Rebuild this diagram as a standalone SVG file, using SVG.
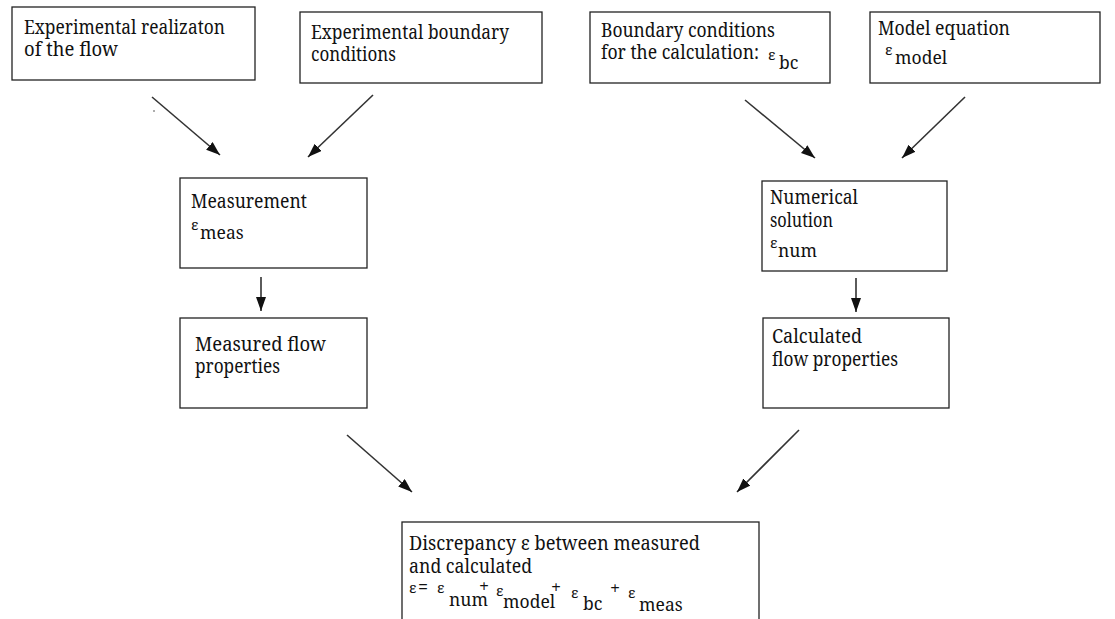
<svg xmlns="http://www.w3.org/2000/svg" width="1115" height="619" viewBox="0 0 1115 619">
<style>
.box{fill:#fff;stroke:#222;stroke-width:1.3}
text{font-family:'Noto Serif','DejaVu Serif',serif;fill:#111}
.t{font-size:19px}
.s{font-size:17.5px}
.e{font-size:15px}
.p{font-size:18px}
.c{stroke:#333;stroke-width:1.6;fill:none;marker-end:url(#ah)}
</style>
<defs>
<marker id="ah" markerUnits="userSpaceOnUse" markerWidth="15" markerHeight="11" refX="14" refY="5" orient="auto">
<path d="M0,0 L14,5 L0,10 z" fill="#111"/>
</marker>
</defs>
<rect width="1115" height="619" fill="#fff"/>
<g id="n1"><rect class="box" x="12" y="7" width="243" height="73"/>
<text class="t" x="24" y="34" textLength="201" lengthAdjust="spacingAndGlyphs">Experimental realizaton</text>
<text class="t" x="24" y="56" textLength="94" lengthAdjust="spacingAndGlyphs">of the flow</text></g>
<g id="n2"><rect class="box" x="300" y="12" width="242" height="71"/>
<text class="t" x="311" y="39" textLength="198" lengthAdjust="spacingAndGlyphs">Experimental boundary</text>
<text class="t" x="311" y="61" textLength="85" lengthAdjust="spacingAndGlyphs">conditions</text></g>
<g id="n3"><rect class="box" x="590" y="12" width="240" height="71"/>
<text class="t" x="601" y="37" textLength="174" lengthAdjust="spacingAndGlyphs">Boundary conditions</text>
<text class="t" x="601" y="59" textLength="158" lengthAdjust="spacingAndGlyphs">for the calculation:</text>
<text x="768" y="60"><tspan class="e">ε</tspan><tspan class="s" x="779" y="69">bc</tspan></text></g>
<g id="n4"><rect class="box" x="870" y="12" width="230" height="71"/>
<text class="t" x="878" y="35" textLength="132" lengthAdjust="spacingAndGlyphs">Model equation</text>
<text x="885" y="55"><tspan class="e">ε</tspan><tspan class="s" x="895" y="64">model</tspan></text></g>
<g id="n5"><rect class="box" x="180" y="178" width="187" height="90"/>
<text class="t" x="191" y="208" textLength="116" lengthAdjust="spacingAndGlyphs">Measurement</text>
<text x="191" y="230"><tspan class="e">ε</tspan><tspan class="s" x="200" y="239">meas</tspan></text></g>
<g id="n6"><rect class="box" x="180" y="318" width="187" height="90"/>
<text class="t" x="195" y="351" textLength="131" lengthAdjust="spacingAndGlyphs">Measured flow</text>
<text class="t" x="195" y="373" textLength="85" lengthAdjust="spacingAndGlyphs">properties</text></g>
<g id="n7"><rect class="box" x="762" y="181" width="185" height="90"/>
<text class="t" x="770" y="204" textLength="88" lengthAdjust="spacingAndGlyphs">Numerical</text>
<text class="t" x="770" y="227" textLength="63" lengthAdjust="spacingAndGlyphs">solution</text>
<text x="770" y="248"><tspan class="e">ε</tspan><tspan class="s" x="778" y="257">num</tspan></text></g>
<g id="n8"><rect class="box" x="763" y="318" width="186" height="90"/>
<text class="t" x="772" y="343" textLength="90" lengthAdjust="spacingAndGlyphs">Calculated</text>
<text class="t" x="772" y="366" textLength="126" lengthAdjust="spacingAndGlyphs">flow properties</text></g>
<g id="n9"><rect class="box" x="402" y="522" width="357" height="120"/>
<text class="t" x="409" y="550" textLength="291" lengthAdjust="spacingAndGlyphs">Discrepancy ε between measured</text>
<text class="t" x="409" y="573" textLength="123" lengthAdjust="spacingAndGlyphs">and calculated</text>
<text x="409" y="593"><tspan class="e">ε</tspan><tspan class="p" x="418" y="593">=</tspan><tspan class="e" x="437" y="593">ε</tspan><tspan class="s" x="449" y="606">num</tspan><tspan class="p" x="479" y="593">+</tspan><tspan class="e" x="496" y="596">ε</tspan><tspan class="s" x="503" y="608">model</tspan><tspan class="p" x="551" y="594">+</tspan><tspan class="e" x="571" y="598">ε</tspan><tspan class="s" x="583" y="610">bc</tspan><tspan class="p" x="610" y="595">+</tspan><tspan class="e" x="628" y="598">ε</tspan><tspan class="s" x="639" y="611">meas</tspan></text></g>
<g id="connectors">
<line class="c" x1="152" y1="97" x2="220" y2="155"/>
<line class="c" x1="373" y1="95" x2="308" y2="157"/>
<line class="c" x1="745" y1="100" x2="815" y2="158"/>
<line class="c" x1="965" y1="97" x2="902" y2="158"/>
<line class="c" x1="261" y1="277" x2="261" y2="311"/>
<line class="c" x1="856" y1="278" x2="856" y2="312"/>
<line class="c" x1="347" y1="435" x2="412" y2="492"/>
<line class="c" x1="799" y1="430" x2="737" y2="492"/>
</g>
<circle cx="154" cy="111" r="0.8" fill="#444"/>
</svg>
